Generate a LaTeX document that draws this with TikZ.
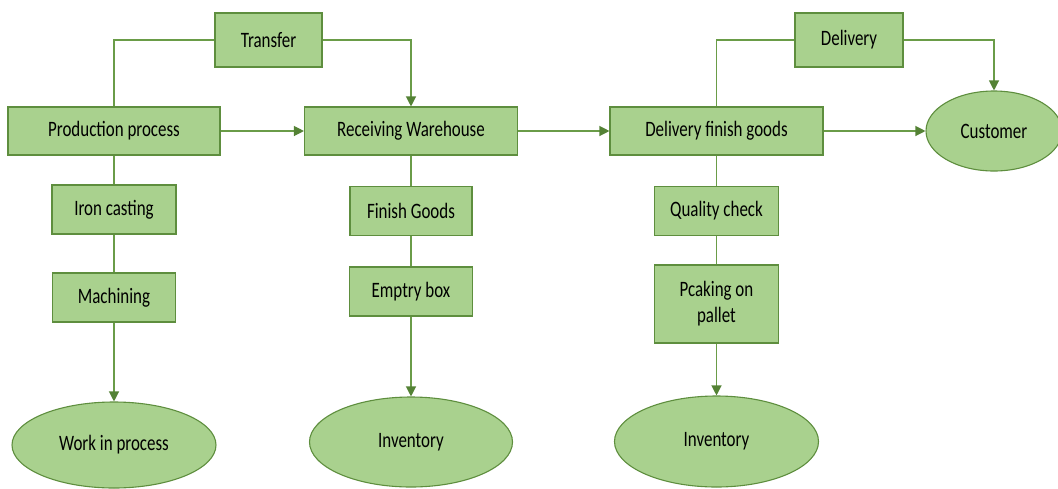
\documentclass[tikz,border=0pt]{standalone}
\usepackage{fontspec}
\setmainfont{Carlito}[FakeStretch=0.77]
\usetikzlibrary{shapes.geometric,arrows.meta}
\definecolor{boxfill}{HTML}{A9D18E}
\definecolor{boxline}{HTML}{5E8E3E}
\definecolor{conn}{HTML}{6A9C48}
\definecolor{tipc}{HTML}{548235}
\tikzset{
  stepbox/.style={draw=boxline, fill=boxfill, line width=1.1pt, rectangle, inner sep=0pt, align=center, font=\fontsize{22}{26}\selectfont, text=black},
  oval/.style={draw=boxline, fill=boxfill, line width=1.1pt, ellipse, inner sep=0pt, font=\fontsize{22}{26}\selectfont, text=black},
  link/.style={draw=conn, line width=1.2pt},
  arr/.style={link, -{Triangle[length=10pt,width=10pt,color=tipc]}}
}
\begin{document}
\begin{tikzpicture}[x=1pt,y=-1pt]
\useasboundingbox (0,0) rectangle (1058,488);
\clip (0,0) rectangle (1058,488);
% boxes
\node[stepbox, minimum width=107pt, minimum height=54pt] (transfer) at (268.5,40) {Transfer};
\node[stepbox, minimum width=212pt, minimum height=48pt] (prod) at (114,131) {Production process};
\node[stepbox, minimum width=213pt, minimum height=48pt] (recv) at (411,131) {Receiving Warehouse};
\node[stepbox, minimum width=124pt, minimum height=49pt] (iron) at (114,209.5) {Iron casting};
\node[stepbox, minimum width=123pt, minimum height=49pt] (mach) at (114,297.5) {Machining};
\node[stepbox, minimum width=122pt, minimum height=49pt] (fin) at (411,211) {Finish Goods};
\node[stepbox, minimum width=123pt, minimum height=49pt] (empty) at (411,291.5) {Emptry box};
\node[stepbox, minimum width=108pt, minimum height=54pt] (deliv) at (849,40) {Delivery};
\node[stepbox, minimum width=213pt, minimum height=48pt] (dfg) at (716.5,131) {Delivery finish goods};
\node[stepbox, minimum width=124pt, minimum height=49pt] (qc) at (716.5,211) {Quality check};
\node[stepbox, minimum width=124pt, minimum height=78pt] (pack) at (716.5,304) {Pcaking on\\pallet};
% ellipses
\node[oval, minimum width=204pt, minimum height=86pt] (wip) at (114,445) {Work in process};
\node[oval, minimum width=203pt, minimum height=90pt] (inv1) at (411,442) {Inventory};
\node[oval, minimum width=204pt, minimum height=91pt] (inv2) at (716.5,441.5) {Inventory};
\node[oval, minimum width=136pt, minimum height=80pt] (cust) at (994,131) {Customer};
% connectors
\draw[link] (prod.north) |- (transfer.west);
\draw[arr] (transfer.east) -| (recv.north);
\draw[arr] (prod.east) -- (recv.west);
\draw[arr] (recv.east) -- (dfg.west);
\draw[arr] (dfg.east) -- (cust.west);
\draw[link] (dfg.north) |- (deliv.west);
\draw[arr] (deliv.east) -| (cust.north);
\draw[link] (prod.south) -- (iron.north);
\draw[link] (iron.south) -- (mach.north);
\draw[arr] (mach.south) -- (wip.north);
\draw[link] (recv.south) -- (fin.north);
\draw[link] (fin.south) -- (empty.north);
\draw[arr] (empty.south) -- (inv1.north);
\draw[link] (dfg.south) -- (qc.north);
\draw[link] (qc.south) -- (pack.north);
\draw[arr] (pack.south) -- (inv2.north);
\end{tikzpicture}
\end{document}
